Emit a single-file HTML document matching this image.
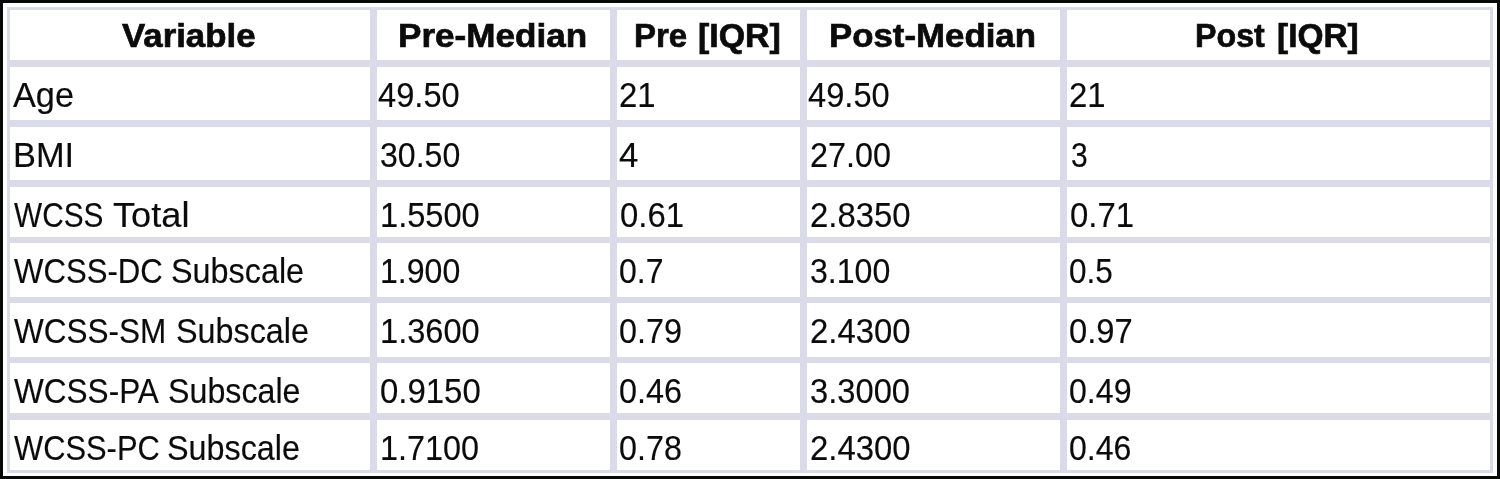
<!DOCTYPE html>
<html lang="en">
<head>
<meta charset="utf-8">
<title>Table</title>
<style>
html,body{margin:0;padding:0;background:#fff;}
body{width:1500px;height:479px;overflow:hidden;position:relative;font-family:"Liberation Sans",sans-serif;color:#0b0b0b;}
.frame{position:absolute;left:0;top:0;width:1500px;height:479px;box-sizing:border-box;border:3px solid #070808;background:#fff;}
table{position:absolute;left:7px;top:7px;width:1486px;border-collapse:separate;border-spacing:0;table-layout:fixed;font-size:35px;}
td,th{box-sizing:border-box;border:0 solid #dadae8;border-left-width:7px;border-top-width:7px;padding:0 0 0 3px;margin:0;text-align:left;vertical-align:top;white-space:nowrap;overflow:hidden;font-weight:normal;line-height:40px;}
td:first-child,th:first-child{border-left-width:3px;}
td:last-child,th:last-child{border-right-width:3px;}
th{border-top-width:3px;height:53px;font-weight:bold;font-size:34px;padding-top:5px;-webkit-text-stroke:0.7px #0b0b0b;}
tr.r1 td,tr.r2 td{height:60px;}
tr.r3 td{height:57px;}
tr.r4 td{height:60px;border-top-width:6px;}
tr.r5 td{height:60px;border-top-width:6px;}
tr.r6 td{height:56px;border-top-width:6px;}
tr.r7 td{height:60px;border-bottom-width:3px;}
td{padding-top:8px;-webkit-text-stroke:0.15px #0b0b0b;}
td span,th span{display:inline-block;transform-origin:0 50%;}
</style>
</head>
<body>
<div class="frame"></div>
<table>
<colgroup><col style="width:363px"><col style="width:240px"><col style="width:190px"><col style="width:260px"><col style="width:433px"></colgroup>
<thead>
<tr><th><span style="margin-left:109.07px;transform:scaleX(1.0236)">Variable</span></th><th><span style="margin-left:17.50px;transform:scaleX(1.0318)">Pre-Median</span></th><th><span style="margin-left:14.31px;transform:scaleX(0.9710)">Pre</span> <span style="margin-left:-0.18px;transform:scaleX(0.9971)">[IQR]</span></th><th><span style="margin-left:19.30px;transform:scaleX(1.0241)">Post-Median</span></th><th><span style="margin-left:124.98px;transform:scaleX(0.9477)">Post</span> <span style="margin-left:-1.33px;transform:scaleX(0.9832)">[IQR]</span></th></tr>
</thead>
<tbody>
<tr class="r1"><td><span style="margin-left:-0.19px;transform:scaleX(0.9791)">Age</span></td><td><span style="margin-left:-1.59px;transform:scaleX(0.9331)">49.50</span></td><td><span style="margin-left:-1.32px;transform:scaleX(0.9400)">21</span></td><td><span style="margin-left:-1.59px;transform:scaleX(0.9331)">49.50</span></td><td><span style="margin-left:-1.32px;transform:scaleX(0.9400)">21</span></td></tr>
<tr class="r2"><td><span style="margin-left:-0.44px;transform:scaleX(0.9829)">BMI</span></td><td><span style="margin-left:0.38px;transform:scaleX(0.9168)">30.50</span></td><td><span style="margin-left:-0.71px;transform:scaleX(0.9937)">4</span></td><td><span style="margin-left:-0.05px;transform:scaleX(0.9245)">27.00</span></td><td><span style="margin-left:0.66px;transform:scaleX(0.8596)">3</span></td></tr>
<tr class="r3"><td><span style="margin-left:0.53px;transform:scaleX(0.8514)">WCSS</span> <span style="margin-left:-15.49px;transform:scaleX(1.0336)">Total</span></td><td><span style="margin-left:0.22px;transform:scaleX(0.9313)">1.5500</span></td><td><span style="margin-left:-0.04px;transform:scaleX(0.9400)">0.61</span></td><td><span style="margin-left:-0.11px;transform:scaleX(0.9390)">2.8350</span></td><td><span style="margin-left:-0.04px;transform:scaleX(0.9400)">0.71</span></td></tr>
<tr class="r4"><td><span style="margin-left:0.53px;transform:scaleX(0.8901)">WCSS-DC</span> <span style="margin-left:-19.13px;transform:scaleX(0.9244)">Subscale</span></td><td><span style="margin-left:0.35px;transform:scaleX(0.9161)">1.900</span></td><td><span style="margin-left:-0.92px;transform:scaleX(0.9158)">0.7</span></td><td><span style="margin-left:0.38px;transform:scaleX(0.9168)">3.100</span></td><td><span style="margin-left:-0.84px;transform:scaleX(0.9009)">0.5</span></td></tr>
<tr class="r5"><td><span style="margin-left:0.51px;transform:scaleX(0.9007)">WCSS-SM</span> <span style="margin-left:-16.11px;transform:scaleX(0.9236)">Subscale</span></td><td><span style="margin-left:0.22px;transform:scaleX(0.9313)">1.3600</span></td><td><span style="margin-left:-0.95px;transform:scaleX(0.9236)">0.79</span></td><td><span style="margin-left:-0.11px;transform:scaleX(0.9390)">2.4300</span></td><td><span style="margin-left:-0.99px;transform:scaleX(0.9345)">0.97</span></td></tr>
<tr class="r6"><td><span style="margin-left:0.51px;transform:scaleX(0.9012)">WCSS-PA</span> <span style="margin-left:-15.89px;transform:scaleX(0.9198)">Subscale</span></td><td><span style="margin-left:-0.05px;transform:scaleX(0.9412)">0.9150</span></td><td><span style="margin-left:-0.95px;transform:scaleX(0.9251)">0.46</span></td><td><span style="margin-left:0.31px;transform:scaleX(0.9348)">3.3000</span></td><td><span style="margin-left:-0.93px;transform:scaleX(0.9172)">0.49</span></td></tr>
<tr class="r7"><td><span style="margin-left:0.52px;transform:scaleX(0.8821)">WCSS-PC</span> <span style="margin-left:-21.12px;transform:scaleX(0.9236)">Subscale</span></td><td><span style="margin-left:0.26px;transform:scaleX(0.9257)">1.7100</span></td><td><span style="margin-left:-0.95px;transform:scaleX(0.9226)">0.78</span></td><td><span style="margin-left:-0.11px;transform:scaleX(0.9390)">2.4300</span></td><td><span style="margin-left:-0.92px;transform:scaleX(0.9160)">0.46</span></td></tr>
</tbody>
</table>
</body>
</html>
